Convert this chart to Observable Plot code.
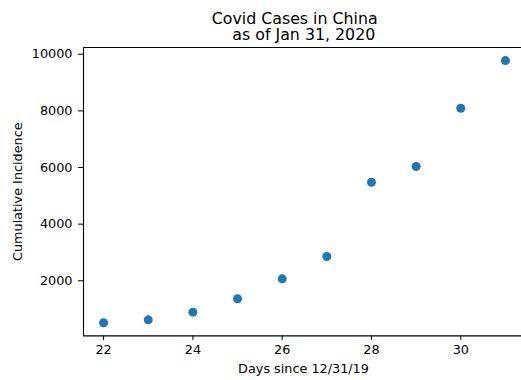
<!DOCTYPE html>
<html>
<head>
<meta charset="utf-8">
<script src="https://cdn.jsdelivr.net/npm/d3@7"></script>
<script src="https://cdn.jsdelivr.net/npm/@observablehq/plot@0.6"></script>
<style>
  html, body { margin: 0; padding: 0; background: #fff; }
</style>
</head>
<body>
<div id="chart"></div>
<script>
const days = [22, 23, 24, 25, 26, 27, 28, 29, 30, 31];
const cases = [517, 622, 893, 1364, 2070, 2858, 5481, 6034, 8093, 9775];
const xTicks = [22, 24, 26, 28, 30];
const yTicks = [2000, 4000, 6000, 8000, 10000];
const xDomain = [21.55, 31.36];
const yDomain = [54, 10238];
const titleLine1 = "Covid Cases in China";
const titleLine2 = "as of Jan 31, 2020";
const xLabel = "Days since 12/31/19";
const yLabel = "Cumulative Incidence";

const data = days.map((d, i) => ({day: d, cases: cases[i]}));

const W = 521, H = 380;
const mL = 83, mT = 47, mB = 44.6, mR = 0;

const chart = Plot.plot({
  width: W,
  height: H,
  marginLeft: mL,
  marginRight: mR,
  marginTop: mT,
  marginBottom: mB,
  style: {fontFamily: "DejaVu Sans", fontSize: "12.8px", color: "#000", background: "#fff"},
  x: {domain: xDomain, ticks: xTicks},
  y: {domain: yDomain, ticks: yTicks},
  marks: [
    Plot.axisX({ticks: xTicks, tickSize: 4.5, tickPadding: 5, tickFormat: d => String(d), label: null, fontSize: 12.8, stroke: "#000"}),
    Plot.axisY({ticks: yTicks, tickSize: 5, tickPadding: 6, tickFormat: d => String(d), label: null, fontSize: 12.8, stroke: "#000"}),
    Plot.ruleX([xDomain[0]], {stroke: "#000", strokeWidth: 1.1}),
    Plot.ruleY(yDomain, {stroke: "#000", strokeWidth: 1.1}),
    Plot.dot(data, {x: "day", y: "cases", r: 4.5, fill: "#1f77b4", stroke: "none"}),
    Plot.text([titleLine1], {frameAnchor: "top-left", dx: 294.2 - mL, dy: 23.3 - mT, lineAnchor: "bottom", textAnchor: "middle", fontSize: 15.8, fill: "#000"}),
    Plot.text([titleLine2], {frameAnchor: "top-left", dx: 303.3 - mL, dy: 39.3 - mT, lineAnchor: "bottom", textAnchor: "middle", fontSize: 15.8, fill: "#000"}),
    Plot.text([xLabel], {frameAnchor: "bottom-left", dx: 303 - mL, dy: 372.7 - (H - mB), lineAnchor: "bottom", textAnchor: "middle", fontSize: 12.8, fill: "#000"}),
    Plot.text([yLabel], {frameAnchor: "left", dx: 17 - mL, dy: 0, rotate: -90, lineAnchor: "middle", textAnchor: "middle", fontSize: 12.8, fill: "#000"})
  ]
});
document.getElementById("chart").appendChild(chart);
</script>
</body>
</html>
